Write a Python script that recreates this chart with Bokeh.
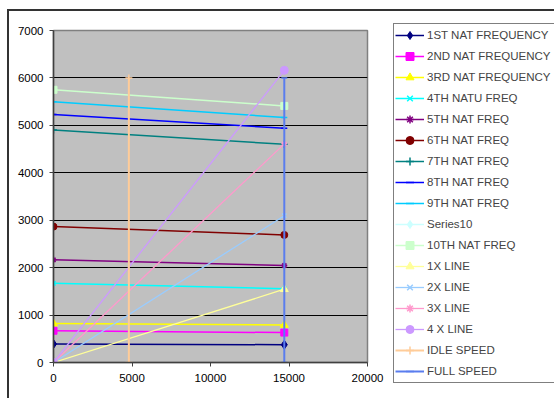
from bokeh.plotting import figure
from bokeh.models import Legend, LegendItem, FixedTicker, Range1d
from bokeh.embed import file_html
from bokeh.resources import INLINE

nan = float("nan")

# ---- data ----
x_pts = [0, 14700]
series_names = ["1ST NAT FREQUENCY", "2ND NAT FREQUENCY", "3RD NAT FREQUENCY", "4TH NATU FREQ",
                "5TH NAT FREQ", "6TH NAT FREQ", "7TH NAT FREQ", "8TH NAT FREQ", "9TH NAT FREQ",
                "Series10", "10TH NAT FREQ", "1X LINE", "2X LINE", "3X LINE", "4 X LINE",
                "IDLE SPEED", "FULL SPEED"]
f1 = [390, 375]
f2 = [670, 630]
f3 = [820, 790]
f4 = [1670, 1555]
f5 = [2165, 2045]
f6 = [2865, 2690]
f7 = [4900, 4600]
f8 = [5230, 4940]
f9 = [5500, 5165]
s10 = [nan, nan]          # Series10 has no visible points
f10 = [5750, 5410]
x1 = [0, 1545]
x2 = [0, 3095]
x3 = [0, 4610]
x4 = [0, 6160]
idle_x = [4800, 4800]
idle_y = [0, 6000]
full_x = [14700, 14700]
full_y = [0, 6000]
x_ticks = [0, 5000, 10000, 15000, 20000]
y_ticks = [0, 1000, 2000, 3000, 4000, 5000, 6000, 7000]

series = [
    (x_pts, f1, "#000080", "diamond", 9, 1.5),
    (x_pts, f2, "#FF00FF", "square", 7, 1.5),
    (x_pts, f3, "#FFFF00", "triangle", 8, 1.5),
    (x_pts, f4, "#00FFFF", "x", 6, 1.5),
    (x_pts, f5, "#800080", "asterisk", 6, 1.5),
    (x_pts, f6, "#800000", "circle", 7, 1.5),
    (x_pts, f7, "#008080", "cross", 7, 1.5),
    (x_pts, f8, "#0000FF", "dash", 6, 1.5),
    (x_pts, f9, "#00CCFF", "dash", 6, 1.5),
    (x_pts, s10, "#CCFFFF", "diamond", 9, 1.5),
    (x_pts, f10, "#CCFFCC", "square", 7, 1.5),
    (x_pts, x1, "#FFFF99", "triangle", 8, 1.3),
    (x_pts, x2, "#99CCFF", "x", 6, 1.3),
    (x_pts, x3, "#FF99CC", "asterisk", 6, 1.3),
    (x_pts, x4, "#CC99FF", "circle", 8, 1.3),
    (idle_x, idle_y, "#FFCC99", "cross", 7, 2),
    (full_x, full_y, "#5A7DEE", "dash", 6, 2),
]

p = figure(width=545, height=387, output_backend="svg", toolbar_location=None,
           x_range=Range1d(0, 20000), y_range=Range1d(0, 7000),
           min_border_left=44, min_border_top=19, min_border_bottom=36, min_border_right=10,
           frame_width=314, frame_height=332)
p.styles = {"border-top": "2px solid #333333", "border-left": "2px solid #333333",
            "margin-left": "7px", "margin-top": "9px"}
p.background_fill_color = "#C0C0C0"
p.border_fill_color = "white"
p.outline_line_color = "#808080"
p.outline_line_width = 1.5

p.xgrid.visible = False
p.ygrid.grid_line_color = "black"
p.ygrid.grid_line_width = 1
p.ygrid.ticker = FixedTicker(ticks=y_ticks)

for ax, ticks in ((p.xaxis[0], x_ticks), (p.yaxis[0], y_ticks)):
    ax.ticker = FixedTicker(ticks=ticks)
    ax.axis_line_color = "#404040"
    ax.axis_line_width = 1.5
    ax.major_tick_line_color = "#404040"
    ax.major_tick_out = 4
    ax.major_tick_in = 0
    ax.minor_tick_line_color = None
    ax.major_label_text_font = "Liberation Sans"
    ax.major_label_text_font_size = "11.5px"
    ax.major_label_text_color = "black"
p.yaxis.major_label_standoff = 6
p.xaxis.major_label_standoff = 7

items = []
for (xs, ys, color, marker, size, lw), name in zip(series, series_names):
    r1 = p.line(xs, ys, line_color=color, line_width=lw)
    r2 = p.scatter(xs, ys, marker=marker, size=size, fill_color=color, line_color=color,
                   line_width=1.5 if marker in ("x", "asterisk", "cross", "dash") else 1)
    items.append(LegendItem(label=name, renderers=[r1, r2]))

legend = Legend(items=items, location=(26, -21), padding=1, spacing=1,
                glyph_width=29, glyph_height=20, label_height=20, label_standoff=3,
                label_width=126,
                label_text_font="Liberation Sans", label_text_font_size="11.5px",
                border_line_color="black", border_line_width=1,
                background_fill_color="white", background_fill_alpha=1, margin=0)
p.add_layout(legend, "right")

open("out.html", "w").write(file_html(p, INLINE))
